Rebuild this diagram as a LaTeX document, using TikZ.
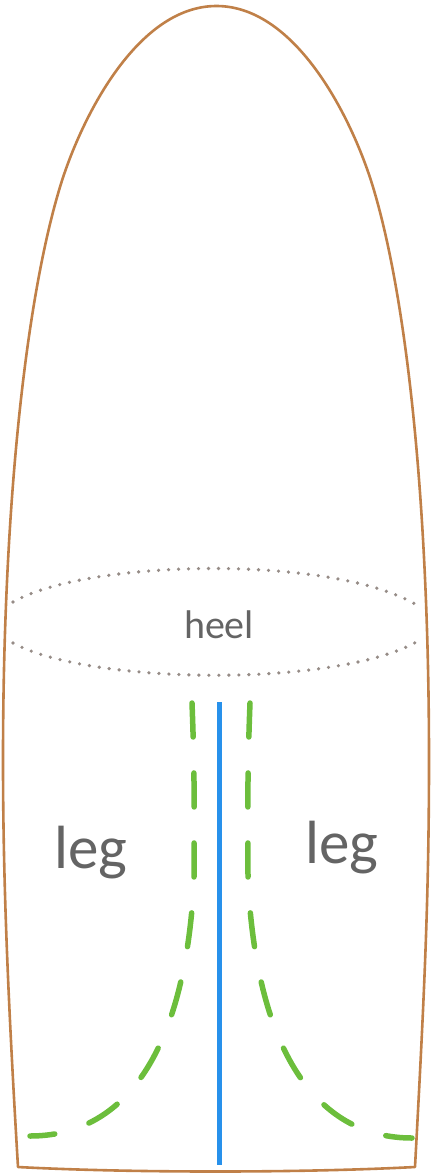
\documentclass[tikz,border=0pt]{standalone}
\usepackage{fontspec}
\setmainfont{Carlito}
\definecolor{outlinebrown}{RGB}{192,128,72}
\definecolor{dotgray}{RGB}{150,140,135}
\definecolor{seamblue}{RGB}{40,145,235}
\definecolor{cutgreen}{RGB}{108,190,60}
\definecolor{labelgray}{RGB}{100,100,100}
\tikzset{
  outline/.style={draw=outlinebrown, line width=2.6pt, line join=round},
  heelline/.style={draw=dotgray, line width=3.6pt, line cap=round, dash pattern=on 0pt off 10pt},
  seam/.style={draw=seamblue, line width=5pt},
  cutline/.style={draw=cutgreen, line width=5.5pt, line cap=round, dash pattern=on 34pt off 36pt},
  lbl/.style={text=labelgray, inner sep=0pt, anchor=base}
}
\begin{document}
\begin{tikzpicture}[x=1pt,y=-1pt]
\useasboundingbox (0,0) rectangle (431,1175);
% sock outline
\draw[outline] (18,1167) .. controls (8,1000) and (3,880) .. (3,760)
  .. controls (3,510) and (25.2,302) .. (60,187)
  .. controls (80.3,119.8) and (136.5,6) .. (216.5,6)
  .. controls (296.5,6) and (352.7,119.8) .. (373,187)
  .. controls (407.8,302) and (429,510) .. (429,760)
  .. controls (429,900) and (424,1000) .. (415,1167)
  .. controls (300,1173) and (130,1173) .. (18,1167) -- cycle;
% heel
\coordinate (hl1) at (13,602);
\coordinate (hr1) at (420,607);
\coordinate (hl2) at (13,643);
\coordinate (hr2) at (420,640);
\draw[heelline] (hl1) .. controls (90,558) and (340,555) .. (hr1);
\draw[heelline] (hl2) .. controls (90,685) and (340,688) .. (hr2);
\node[lbl, font=\fontsize{40}{40}\selectfont] (heel) at (219,638) {heel};
% seam
\coordinate (st) at (219,702);
\coordinate (sb) at (219,1165);
\draw[seam] (st) -- (sb);
% cut lines
\coordinate (lt) at (192,703);
\coordinate (lm) at (194,880);
\coordinate (lb) at (30,1136);
\coordinate (rt) at (250,703);
\coordinate (rm) at (248,880);
\coordinate (rb) at (412,1138);
\draw[cutline] (lt) .. controls (195,780) and (194,820) .. (lm) .. controls (185,1060) and (120,1136) .. (lb);
\draw[cutline] (rt) .. controls (247,780) and (248,820) .. (rm) .. controls (257,1060) and (322,1138) .. (rb);
% labels
\node[lbl, font=\fontsize{61}{61}\selectfont] (legl) at (91,868) {leg};
\node[lbl, font=\fontsize{61}{61}\selectfont] (legr) at (342,863) {leg};
\end{tikzpicture}
\end{document}
